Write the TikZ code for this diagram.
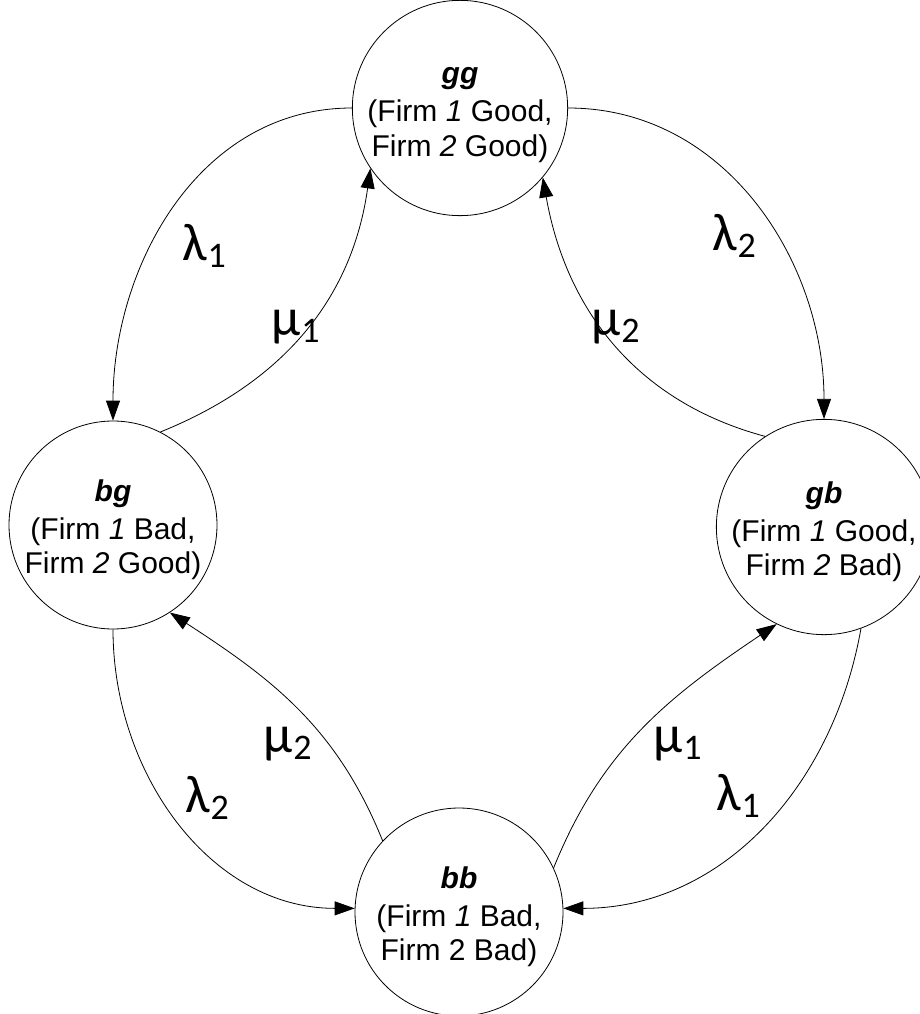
\documentclass[tikz,border=0pt]{standalone}
\usepackage{fontspec}
\setmainfont{Liberation Sans}
\newfontfamily\labfont{Carlito}
\usetikzlibrary{arrows.meta}
\newcommand\statetxt{\fontsize{30}{34}\selectfont}
\newcommand\ratelab[2]{{\labfont\fontsize{53}{60}\selectfont #1}\kern1pt\raisebox{-7pt}{\labfont\fontsize{36}{40}\selectfont #2}}
\newcommand\topstrut{\rule{0pt}{31pt}}
\newcommand\botstrut{\rule[-7pt]{0pt}{7pt}}
\begin{document}
\begin{tikzpicture}[x=1pt,y=1pt,
  state/.style={circle,draw,line width=0.8pt,minimum size=208pt,inner sep=0pt,align=center,font=\statetxt},
  ratenode/.style={anchor=base west,inner sep=0pt},
  edge/.style={line width=0.8pt,-{Triangle[length=20pt,width=14pt]}}]
\useasboundingbox (0,0) rectangle (920,-1014);
\fill[white] (0,0) rectangle (920,-1014);
\clip (0,0) rectangle (920,-1014);

\node[state] (gg) at (460,-108) {\topstrut\textbf{\textit{gg}}\\[4pt](Firm \textit{1} Good,\\Firm \textit{2} Good)\botstrut};
\node[state] (bg) at (113,-525) {\topstrut\textbf{\textit{bg}}\\[4pt](Firm \textit{1} Bad,\\Firm \textit{2} Good)\botstrut};
\node[state] (gb) at (824,-527) {\topstrut\textbf{\textit{gb}}\\[4pt](Firm \textit{1} Good,\\Firm \textit{2} Bad)\botstrut};
\node[state] (bb) at (459,-912) {\topstrut\textbf{\textit{bb}}\\[4pt](Firm \textit{1} Bad,\\Firm 2 Bad)\botstrut};

\draw[edge] (gg.west) to[out=180,in=90] (bg.north);
\draw[edge] (bg.63) to[out=22,in=-98] (gg.214);
\draw[edge] (gg.east) to[out=0,in=90] (gb.north);
\draw[edge] (gb.123) to[out=165,in=-80] (gg.-40);
\draw[edge] (bg.south) to[out=-90,in=180] (bb.178);
\draw[edge] (bb.137) to[out=112,in=-33] (bg.-57);
\draw[edge] (bb.25) to[out=68,in=214] (gb.-116);
\draw[edge] (gb.-70) to[out=-100,in=0] (bb.2);

\node[ratenode] (lamA) at (182,-260) {\ratelab{λ}{1}};
\node[ratenode] (muA) at (271,-335) {\ratelab{μ}{1}};
\node[ratenode] (lamB) at (712,-250) {\ratelab{λ}{2}};
\node[ratenode] (muB) at (591,-335) {\ratelab{μ}{2}};
\node[ratenode] (muC) at (263,-752) {\ratelab{μ}{2}};
\node[ratenode] (lamC) at (185,-812) {\ratelab{λ}{2}};
\node[ratenode] (muD) at (653,-752) {\ratelab{μ}{1}};
\node[ratenode] (lamD) at (716,-810) {\ratelab{λ}{1}};
\end{tikzpicture}
\end{document}
